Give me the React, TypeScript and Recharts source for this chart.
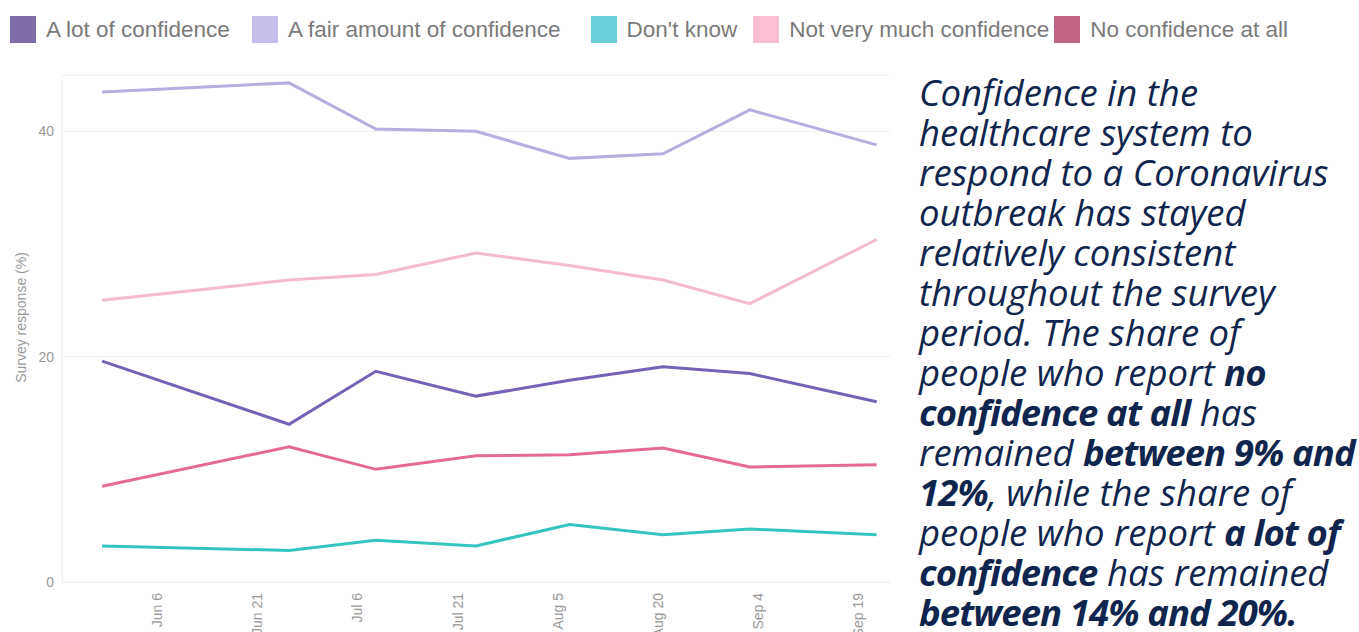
import React from 'react';
import { LineChart, Line, XAxis, YAxis, CartesianGrid, Legend } from 'recharts';

// survey waves (2020, mid-day of the wave's reference date)
const WAVE_DATES = ['2020-05-29', '2020-06-26', '2020-07-09', '2020-07-24', '2020-08-07', '2020-08-21', '2020-09-03', '2020-09-22'];

// share of respondents (%)
const A_LOT = [19.6, 14.0, 18.7, 16.5, 17.9, 19.1, 18.5, 16.0];
const FAIR_AMOUNT = [43.5, 44.3, 40.2, 40.0, 37.6, 38.0, 41.9, 38.8];
const DONT_KNOW = [3.2, 2.8, 3.7, 3.2, 5.1, 4.2, 4.7, 4.2];
const NOT_VERY_MUCH = [25.0, 26.8, 27.3, 29.2, 28.1, 26.8, 24.7, 30.4];
const NO_CONFIDENCE = [8.5, 12.0, 10.0, 11.2, 11.3, 11.9, 10.2, 10.4];

const TICK_DATES = ['2020-06-06', '2020-06-21', '2020-07-06', '2020-07-21', '2020-08-05', '2020-08-20', '2020-09-04', '2020-09-19'];
const TICK_LABELS = ['Jun 6', 'Jun 21', 'Jul 6', 'Jul 21', 'Aug 5', 'Aug 20', 'Sep 4', 'Sep 19'];
const Y_TICKS = [0, 20, 40];

const SERIES = [
  { key: 'lot', name: 'A lot of confidence', values: A_LOT, line: '#7561b6', swatch: '#7d6ca8' },
  { key: 'fair', name: 'A fair amount of confidence', values: FAIR_AMOUNT, line: '#b5aee0', swatch: '#c6bfee' },
  { key: 'dk', name: "Don't know", values: DONT_KNOW, line: '#36c5be', swatch: '#6bcdd9' },
  { key: 'notMuch', name: 'Not very much confidence', values: NOT_VERY_MUCH, line: '#f4bccc', swatch: '#fdbdd2' },
  { key: 'none', name: 'No confidence at all', values: NO_CONFIDENCE, line: '#e56b96', swatch: '#c36486' },
];
// gap after each legend item (px), the original legend is not evenly spaced
const LEGEND_GAPS = [22, 30, 16, 5, 0];

const toTs = (d: string, time = '00:00') => Date.parse(`${d}T${time}:00Z`);

const data = WAVE_DATES.map((d, i) => {
  const row: any = { date: toTs(d, '12:00') };
  SERIES.forEach((s) => { row[s.key] = s.values[i]; });
  return row;
});

const tickValues = TICK_DATES.map((d) => toTs(d));
const X_DOMAIN = [toTs('2020-05-23', '12:00'), toTs('2020-09-24', '12:00')];

const AXIS_FONT = 'Arial, "Liberation Sans", sans-serif';

const ChartLegend = () => (
  <div style={{ display: 'flex', alignItems: 'center', whiteSpace: 'nowrap', fontFamily: AXIS_FONT, fontSize: 22.5, color: '#7a7a7a' }}>
    {SERIES.map((s, i) => (
      <div key={s.key} style={{ display: 'flex', alignItems: 'center', marginRight: LEGEND_GAPS[i] }}>
        <span style={{ display: 'inline-block', width: 26, height: 27, background: s.swatch, marginRight: 10 }} />
        <span>{s.name}</span>
      </div>
    ))}
  </div>
);

const YLabel = ({ viewBox }: any) => {
  const cx = 21;
  const cy = viewBox.y + viewBox.height / 2 - 11;
  return (
    <text x={cx} y={cy} transform={`rotate(-90, ${cx}, ${cy})`} textAnchor="middle" dominantBaseline="central"
      fill="#999" fontSize={14} fontFamily={AXIS_FONT}>
      Survey response (%)
    </text>
  );
};

const TEXT_LINES: { t: string; b?: boolean }[][] = [
  [{ t: 'Confidence in the' }],
  [{ t: 'healthcare system to' }],
  [{ t: 'respond to a Coronavirus' }],
  [{ t: 'outbreak has stayed' }],
  [{ t: 'relatively consistent' }],
  [{ t: 'throughout the survey' }],
  [{ t: 'period. The share of' }],
  [{ t: 'people who report ' }, { t: 'no', b: true }],
  [{ t: 'confidence at all', b: true }, { t: ' has' }],
  [{ t: 'remained ' }, { t: 'between 9% and', b: true }],
  [{ t: '12%', b: true }, { t: ', while the share of' }],
  [{ t: 'people who report ' }, { t: 'a lot of', b: true }],
  [{ t: 'confidence', b: true }, { t: ' has remained' }],
  [{ t: 'between 14% and 20%.', b: true }],
];

export default function App() {
  return (
    <div style={{ position: 'absolute', left: 0, top: 0, width: 1359, height: 632, background: '#fff', overflow: 'hidden' }}>
      <LineChart width={900} height={632} data={data} margin={{ top: 75, right: 10, left: 10, bottom: 0 }}>
        <Legend verticalAlign="middle" align="center" layout="horizontal" content={<ChartLegend />}
          wrapperStyle={{ top: 16, left: 10, width: 1340 }} />
        <CartesianGrid horizontal vertical={false} stroke="#eeeeee" />
        <XAxis dataKey="date" type="number" scale="time" domain={X_DOMAIN} ticks={tickValues}
          tickFormatter={(v: number) => TICK_LABELS[tickValues.indexOf(v)] ?? ''}
          angle={-90} textAnchor="end" height={50} interval={0}
          axisLine={{ stroke: '#eeeeee' }} tickLine={false} tickMargin={5}
          tick={{ fill: '#999', fontSize: 14, fontFamily: AXIS_FONT }} />
        <YAxis width={52} domain={[0, 45]} ticks={Y_TICKS} axisLine={{ stroke: '#eeeeee' }} tickLine={false}
          tick={{ fill: '#999', fontSize: 14, fontFamily: AXIS_FONT }} label={<YLabel />} />
        {SERIES.map((s) => (
          <Line key={s.key} type="linear" dataKey={s.key} name={s.name} stroke={s.line} strokeWidth={3}
            dot={false} activeDot={false} isAnimationActive={false} />
        ))}
      </LineChart>
      <div style={{ position: 'absolute', left: 919, top: 72, fontFamily: '"Open Sans", "Noto Sans", sans-serif', fontStyle: 'italic',
        fontSize: 36.5, lineHeight: '40px', color: '#10254e', whiteSpace: 'nowrap' }}>
        {TEXT_LINES.map((line, i) => (
          <div key={i}>
            {line.map((seg, j) => (
              <span key={j} style={seg.b ? { fontWeight: 700, letterSpacing: -0.9 } : { fontWeight: 400 }}>{seg.t}</span>
            ))}
          </div>
        ))}
      </div>
    </div>
  );
}
